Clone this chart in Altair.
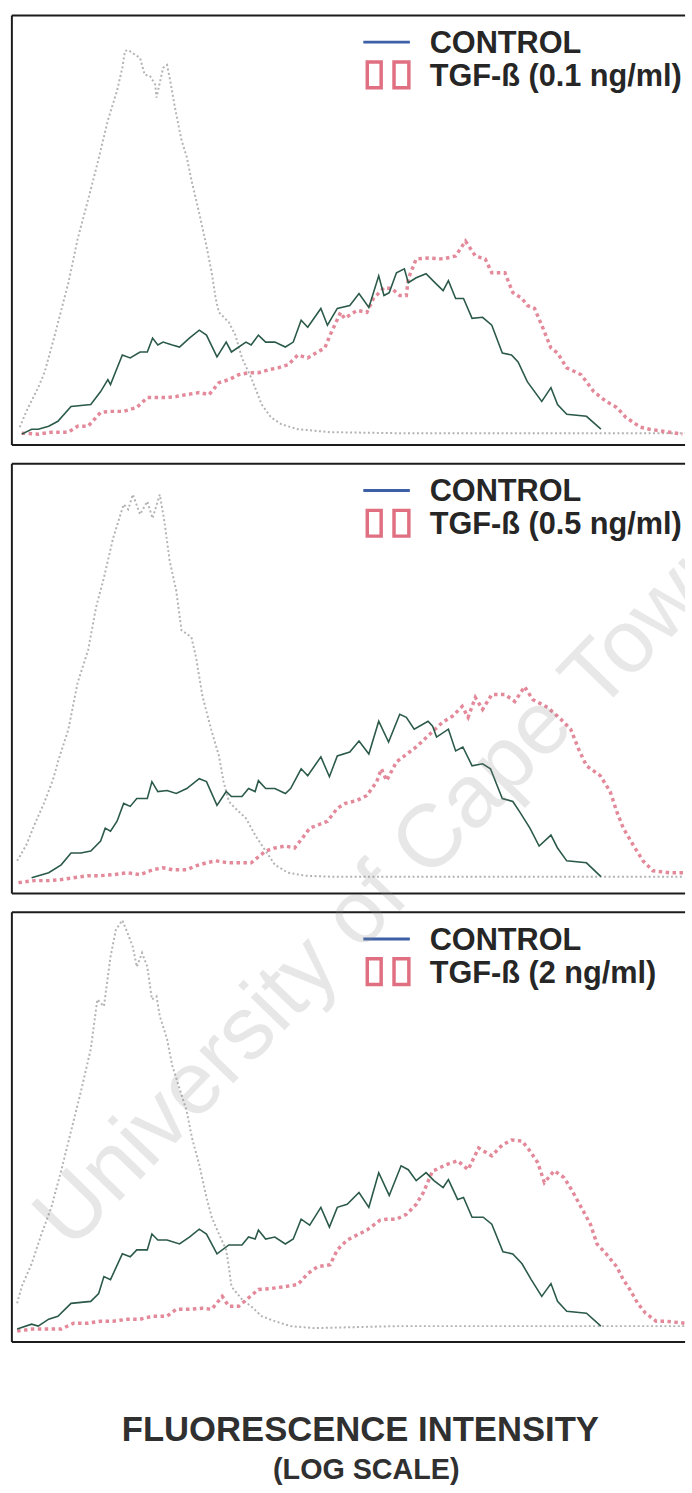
import altair as alt
import pandas as pd

# ---------------- data (channel on a 1024-channel log scale, events per channel) -------------
CONTROL_LABEL = "CONTROL"
TGF_LABELS = ["TGF-ß (0.1 ng/ml)", "TGF-ß (0.5 ng/ml)", "TGF-ß (2 ng/ml)"]
X_TITLE = "FLUORESCENCE INTENSITY"
X_SUBTITLE = "(LOG SCALE)"
WATERMARK_WORDS = ["University of Cape", "Town"]

P1_ISOTYPE = [(12,7),(22,23),(40,47),(50,63),(64,97),(86,153),(100,197),(116,237),(130,273),(146,317),
              (160,347),(168,370),(172,387),(177,388),(188,383),(195,380),(202,363),(210,362),(218,353),
              (220,340),(230,370),(236,373),(240,360),(248,330),(258,297),(266,280),(273,257),(285,223),
              (296,190),(304,163),(310,137),(315,123),(330,113),(340,100),(350,77),(364,57),(380,30),
              (394,17),(410,10),(435,5),(484,2),(585,1),(735,1),(885,1),(1023,1)]
P1_CONTROL = [(15,0),(30,5),(40,5),(56,8),(70,13),(90,28),(120,30),(135,43),(146,55),(150,50),(168,80),
              (180,77),(195,83),(206,83),(214,97),(222,90),(230,93),(244,90),(255,88),(270,97),(285,105),
              (296,100),(312,78),(326,93),(334,83),(356,93),(364,90),(375,100),(386,93),(400,93),(416,88),
              (428,93),(440,115),(450,108),(470,127),(480,110),(495,127),(514,130),(528,142),(543,128),
              (558,160),(566,140),(574,143),(585,163),(597,167),(603,153),(615,158),(630,162),(645,152),
              (656,145),(664,155),(675,137),(687,137),(700,117),(716,118),(730,110),(746,82),(760,80),
              (770,73),(784,53),(806,33),(820,47),(830,30),(844,20),(874,18),(896,5)]
P1_TGF = [(15,1),(40,0),(60,2),(86,2),(100,8),(116,8),(135,22),(150,23),(170,23),(190,27),(206,37),
          (220,37),(236,37),(250,38),(266,40),(285,42),(300,40),(315,52),(330,55),(345,60),(360,62),
          (375,62),(390,65),(405,67),(420,70),(435,80),(450,77),(465,83),(476,87),(484,100),(500,123),
          (506,117),(525,125),(540,123),(550,137),(566,148),(578,147),(590,140),(600,140),(603,157),
          (615,177),(634,178),(656,177),(675,180),(690,195),(705,180),(720,177),(730,163),(750,163),
          (762,143),(776,137),(784,130),(795,127),(806,110),(820,87),(830,82),(844,67),(866,60),(885,43),
          (904,33),(920,27),(934,17),(956,7),(970,5),(1020,0)]

P2_ISOTYPE = [(8,22),(22,38),(34,58),(50,82),(63,105),(70,122),(86,155),(100,202),(116,235),(128,278),
              (140,308),(154,348),(170,382),(177,377),(184,392),(195,372),(206,385),(214,368),(225,392),
              (232,365),(240,325),(250,295),(258,255),(273,248),(280,228),(290,188),(303,155),(315,128),
              (322,102),(330,82),(340,75),(356,65),(370,48),(386,32),(400,18),(420,10),(446,7),(484,6),
              (585,6),(735,6),(885,6),(1023,6)]
P2_CONTROL = [(30,5),(56,10),(75,18),(90,30),(105,30),(120,32),(135,42),(142,55),(150,52),(160,62),
              (170,80),(180,77),(190,85),(206,85),(213,102),(222,92),(236,93),(250,90),(266,95),(285,105),
              (296,102),(312,78),(326,92),(334,87),(350,87),(360,95),(370,92),(375,103),(386,95),(400,95),
              (416,90),(424,95),(440,115),(450,108),(470,127),(483,107),(495,128),(514,132),(528,143),
              (543,130),(558,163),(573,142),(590,170),(600,167),(612,155),(633,163),(640,158),(646,147),
              (664,155),(675,133),(686,137),(700,118),(716,120),(728,115),(746,85),(762,82),(772,72),
              (788,55),(802,37),(820,48),(830,35),(844,22),(874,20),(896,6)]
P2_TGF = [(10,0),(34,2),(56,2),(75,3),(94,5),(116,7),(135,7),(154,8),(176,10),(195,8),(214,13),(230,15),
          (244,13),(266,13),(280,17),(296,20),(310,22),(330,20),(350,20),(364,20),(386,32),(400,35),
          (416,37),(430,35),(442,45),(453,55),(465,58),(480,62),(495,75),(507,80),(525,83),(540,88),
          (555,102),(562,115),(570,103),(585,122),(615,137),(655,162),(670,168),(685,178),(694,167),
          (705,187),(716,175),(730,190),(750,190),(765,183),(780,198),(792,185),(815,177),(835,165),
          (850,155),(862,135),(874,118),(895,108),(910,92),(920,72),(930,55),(945,38),(960,22),(975,12),
          (1000,10),(1023,10)]

P3_ISOTYPE = [(8,28),(15,45),(30,68),(45,98),(60,125),(75,162),(90,202),(105,242),(120,285),(130,335),
              (140,328),(150,378),(158,405),(168,415),(176,402),(184,388),(190,368),(198,382),(206,368),
              (213,335),(220,338),(225,318),(236,295),(244,268),(255,245),(266,222),(274,195),(285,168),
              (296,135),(304,115),(315,98),(326,82),(330,65),(334,45),(350,32),(364,25),(380,15),(400,10),
              (424,5),(460,3),(585,5),(735,5),(885,5),(1023,5)]
P3_CONTROL = [(8,2),(30,7),(40,5),(56,12),(70,15),(90,28),(120,30),(132,38),(140,55),(150,52),(168,78),
              (180,75),(190,82),(206,82),(213,98),(222,92),(236,92),(255,88),(270,95),(285,103),(296,98),
              (312,78),(330,87),(350,87),(360,95),(370,93),(375,102),(386,93),(400,95),(416,88),(428,93),
              (440,113),(453,107),(470,125),(483,105),(495,125),(510,128),(528,140),(543,125),(558,160),
              (574,137),(592,167),(603,163),(615,152),(630,160),(642,152),(656,145),(664,153),(678,133),
              (687,135),(700,115),(717,115),(730,108),(747,80),(762,78),(776,68),(790,52),(806,35),
              (820,48),(830,30),(844,20),(874,18),(896,5)]
P3_TGF = [(8,0),(30,2),(56,2),(75,2),(94,8),(116,8),(135,10),(154,10),(176,12),(195,12),(214,15),(236,15),
          (250,22),(270,22),(290,23),(304,22),(320,35),(330,25),(345,25),(375,42),(394,43),(416,45),
          (435,47),(450,58),(465,65),(484,67),(495,82),(510,92),(525,97),(540,102),(560,112),(570,113),
          (585,113),(600,118),(615,128),(626,140),(640,162),(645,163),(660,168),(678,172),(694,163),
          (710,185),(730,177),(746,188),(760,193),(776,192),(788,182),(800,170),(810,150),(825,162),
          (840,155),(852,142),(866,125),(880,108),(890,88),(904,78),(920,65),(930,52),(940,42),(952,28),
          (964,18),(980,10),(994,10),(1023,8)]

PANELS = [
    (P1_ISOTYPE, P1_CONTROL, P1_TGF, TGF_LABELS[0]),
    (P2_ISOTYPE, P2_CONTROL, P2_TGF, TGF_LABELS[1]),
    (P3_ISOTYPE, P3_CONTROL, P3_TGF, TGF_LABELS[2]),
]

# ---------------- style ----------------
W, H = 680, 434
X_DOMAIN = [0, 1024]
Y_DOMAIN = [-11, 423]
FONT = "Liberation Sans"
FRAME = "#1c1c1c"
GREEN = "#2b5a48"
PINK = "#e3899a"
LEG_PINK = "#e06f81"
GRAY = "#b3b3b3"
BLUE = "#3c5fa6"
TEXT = "#262626"
WM_COLOR = "#8a8a8a"
WM_OPACITY = 0.2
WM_SIZE = 90
WM_ANGLE = 314


def series_df(pairs):
    return pd.DataFrame(pairs, columns=["channel", "count"])


def text_layer(txt, **kw):
    pos = {k: alt.value(v) for k, v in kw.pop("pos").items()}
    return alt.Chart(pd.DataFrame({"t": [txt]})).mark_text(**kw).encode(text="t:N", **pos)


def watermark(txt, x, y, clip):
    return text_layer(
        txt, pos={"x": x, "y": y}, font=FONT, fontSize=WM_SIZE, color=WM_COLOR,
        opacity=WM_OPACITY, angle=WM_ANGLE, align="left", baseline="middle", clip=clip
    )


def panel(iso, ctrl, tgf, label, idx):
    x = alt.X("channel:Q", scale=alt.Scale(domain=X_DOMAIN, nice=False, zero=False), axis=None)
    y = alt.Y("count:Q", scale=alt.Scale(domain=Y_DOMAIN, nice=False, zero=False), axis=None)
    one = pd.DataFrame({"t": [0]})
    layers = [
        alt.Chart(series_df(iso)).mark_line(color=GRAY, strokeWidth=2, strokeDash=[2, 2.5])
        .encode(x=x, y=y, order="channel:Q"),
        alt.Chart(series_df(tgf)).mark_line(color=PINK, strokeWidth=3.5, strokeDash=[3.5, 3.5])
        .encode(x=x, y=y, order="channel:Q"),
        alt.Chart(series_df(ctrl)).mark_line(color=GREEN, strokeWidth=1.6)
        .encode(x=x, y=y, order="channel:Q"),
        # legend key
        alt.Chart(one).mark_rule(color=BLUE, strokeWidth=3)
        .encode(x=alt.value(355), x2=alt.value(402), y=alt.value(27)),
    ]
    for x0, x1 in [(359, 373), (386, 401)]:
        layers.append(
            alt.Chart(one).mark_rect(fill="white", fillOpacity=0, stroke=LEG_PINK, strokeWidth=3.5)
            .encode(x=alt.value(x0), x2=alt.value(x1), y=alt.value(47), y2=alt.value(73))
        )
    common = dict(font=FONT, fontSize=31, fontWeight="bold", color=TEXT, align="left",
                  baseline="alphabetic")
    layers.append(text_layer(CONTROL_LABEL, pos={"x": 422, "y": 38}, **common))
    layers.append(text_layer(label, pos={"x": 422, "y": 71}, **common))
    # frame: left, top, bottom (right edge is cut off)
    layers.append(alt.Chart(one).mark_rule(color=FRAME, strokeWidth=2).encode(x=alt.value(0)))
    layers.append(alt.Chart(one).mark_rule(color=FRAME, strokeWidth=2).encode(y=alt.value(0)))
    layers.append(alt.Chart(one).mark_rule(color=FRAME, strokeWidth=2).encode(y=alt.value(H)))
    if idx == 1:
        layers.append(watermark(WATERMARK_WORDS[1], 572, 234, True))
    if idx == 2:
        layers.append(watermark(WATERMARK_WORDS[0], 40, 324, False))
        tcommon = dict(font=FONT, fontWeight="bold", color="#303030", align="center",
                       baseline="alphabetic")
        layers.append(text_layer(X_TITLE, pos={"x": 352, "y": 534}, fontSize=35, **tcommon))
        layers.append(text_layer(X_SUBTITLE, pos={"x": 358, "y": 572}, fontSize=29, **tcommon))
    return alt.layer(*layers).properties(width=W, height=H)


charts = [panel(*p, i) for i, p in enumerate(PANELS)]
chart = alt.vconcat(*charts, spacing=19, bounds="flush").properties(
    padding={"left": 10, "top": 7, "right": 0, "bottom": 0},
    background="white",
).configure_view(stroke=None)

chart.save("out.html", embed_options={"renderer": "svg", "actions": False})
